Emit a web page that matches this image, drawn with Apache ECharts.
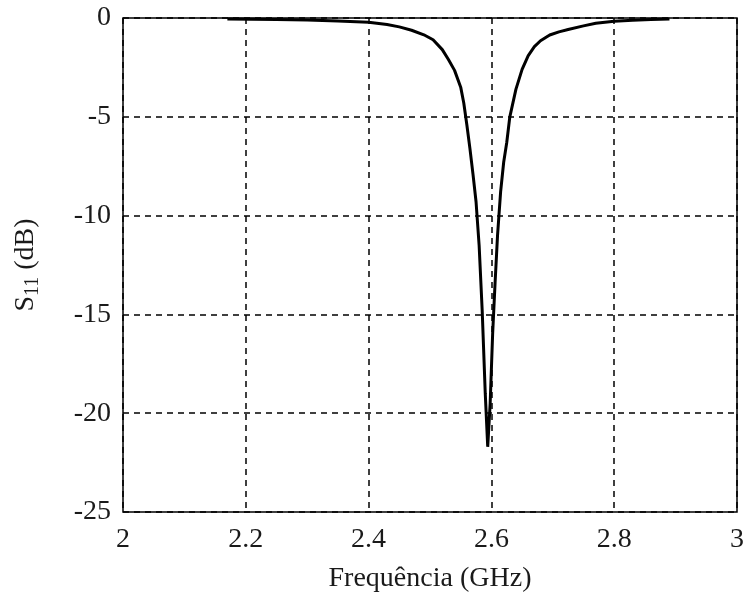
<!DOCTYPE html>
<html>
<head>
<meta charset="utf-8">
<script src="https://cdn.jsdelivr.net/npm/echarts@6/dist/echarts.min.js"></script>
<style>
html,body{margin:0;padding:0;background:#fff;}
#c{width:746px;height:595px;}
</style>
</head>
<body>
<div id="c"></div>
<script>
const freq = [2.17,2.25,2.30,2.35,2.40,2.43,2.45,2.47,2.49,2.505,2.52,2.53,2.54,2.55,2.555,2.56,2.565,2.57,2.575,2.58,2.585,2.59,2.594,2.598,2.602,2.606,2.61,2.615,2.62,2.625,2.63,2.64,2.65,2.66,2.67,2.68,2.695,2.71,2.725,2.75,2.77,2.80,2.83,2.86,2.89];
const s11 = [-0.05,-0.08,-0.10,-0.15,-0.22,-0.33,-0.45,-0.62,-0.85,-1.1,-1.6,-2.1,-2.65,-3.5,-4.3,-5.4,-6.6,-7.9,-9.3,-11.5,-14.8,-19.0,-21.7,-19.5,-16.0,-13.4,-11.0,-8.8,-7.3,-6.3,-5.0,-3.6,-2.6,-1.9,-1.45,-1.15,-0.86,-0.7,-0.58,-0.4,-0.27,-0.17,-0.12,-0.08,-0.05];
const xTicks = [2, 2.2, 2.4, 2.6, 2.8, 3];
const yTicks = [-25, -20, -15, -10, -5, 0];
const xName = 'Frequência (GHz)';

const chart = echarts.init(document.getElementById('c'));
const font = 'Liberation Serif';
const txt = '#1a1a1a';
chart.setOption({
  animation: false,
  grid: {left: 123, right: 9, top: 18, bottom: 83, show: true, borderColor: '#000', borderWidth: 1.5, backgroundColor: 'transparent', outerBoundsMode: 'none', containLabel: false},
  xAxis: {
    type: 'value', min: 2, max: 3, interval: 0.2,
    name: xName, nameLocation: 'middle', nameGap: 53,
    nameTextStyle: {fontFamily: font, fontSize: 28, color: txt},
    axisLine: {show: false},
    axisTick: {show: false},
    axisLabel: {fontFamily: font, fontSize: 28, color: txt, margin: 14,
      formatter: v => String(Math.round(v*10)/10)},
    splitLine: {show: true, lineStyle: {color: '#000', type: [6,5], width: 1.5}}
  },
  yAxis: {
    type: 'value', min: -25, max: 0, interval: 5,
    name: '{a|S}{b|11}{a| (dB)}', nameLocation: 'middle', nameGap: 80, nameRotate: 90,
    nameTextStyle: {rich: {
      a: {fontFamily: font, fontSize: 28, color: txt},
      b: {fontFamily: font, fontSize: 20, color: txt, padding: [14,0,0,0]}
    }},
    axisLine: {show: false},
    axisTick: {show: false},
    axisLabel: {fontFamily: font, fontSize: 28, color: txt, margin: 12},
    splitLine: {show: true, lineStyle: {color: '#000', type: [6,5], width: 1.5}}
  },
  series: [{
    type: 'line',
    data: freq.map((f, i) => [f, s11[i]]),
    showSymbol: false,
    lineStyle: {color: '#000', width: 3},
    clip: false
  }]
});
</script>
</body>
</html>
